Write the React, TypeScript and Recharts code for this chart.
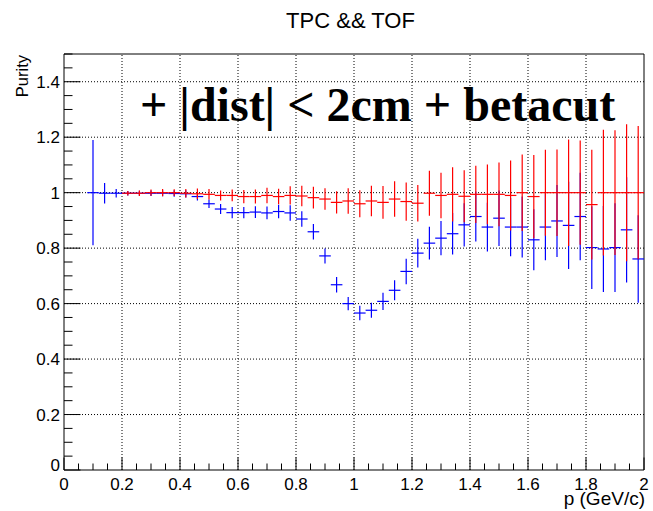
import React from 'react';
import { ComposedChart, Scatter, XAxis, YAxis, ErrorBar, ReferenceLine, ReferenceArea } from 'recharts';

// bin centres (GeV/c), bin width 0.04
const pBins = [
  0.10, 0.14, 0.18, 0.22, 0.26, 0.30, 0.34, 0.38, 0.42, 0.46, 0.50, 0.54,
  0.58, 0.62, 0.66, 0.70, 0.74, 0.78, 0.82, 0.86, 0.90, 0.94, 0.98, 1.02,
  1.06, 1.10, 1.14, 1.18, 1.22, 1.26, 1.30, 1.34, 1.38, 1.42, 1.46, 1.50,
  1.54, 1.58, 1.62, 1.66, 1.70, 1.74, 1.78, 1.82, 1.86, 1.90, 1.94, 1.98,
];
const binHalfWidth = 0.02;

// red: purity with |dist| < 2cm + betacut (first bins empty)
const purityRed = [
  null, null, null, 0.998, 0.998, 1.0, 1.0, 1.0, 0.998, 0.996, 0.994, 0.99,
  0.99, 0.986, 0.986, 0.99, 0.986, 0.99, 0.988, 0.982, 0.977, 0.965, 0.97, 0.96,
  0.97, 0.965, 0.977, 0.968, 0.962, 0.998, 0.99, 0.994, 0.987, 0.994, 0.994, 0.994,
  0.99, 1.0, 0.986, 1.0, 1.0, 1.0, 1.0, 0.957, 1.0, 1.0, 1.0, 1.0,
];
const purityRedErr = [
  0, 0, 0, 0.008, 0.01, 0.011, 0.013, 0.012, 0.015, 0.019, 0.019, 0.018,
  0.021, 0.024, 0.025, 0.028, 0.028, 0.033, 0.037, 0.039, 0.039, 0.04, 0.046, 0.049,
  0.055, 0.059, 0.064, 0.069, 0.066, 0.081, 0.082, 0.098, 0.094, 0.103, 0.108, 0.115,
  0.126, 0.138, 0.15, 0.155, 0.156, 0.192, 0.188, 0.198, 0.227, 0.225, 0.247, 0.24,
];

// blue: purity without the cut
const purityBlue = [
  1.0, 0.998, 0.998, 0.998, 0.998, 0.998, 0.998, 0.997, 0.996, 0.986, 0.96, 0.941,
  0.928, 0.928, 0.93, 0.927, 0.932, 0.927, 0.905, 0.859, 0.772, 0.668, 0.6, 0.566,
  0.576, 0.608, 0.648, 0.716, 0.782, 0.818, 0.836, 0.852, 0.884, 0.914, 0.876, 0.908,
  0.876, 0.876, 0.83, 0.876, 0.898, 0.882, 0.914, 0.802, 0.797, 0.802, 0.866, 0.761,
];
const purityBlueErr = [
  0.19, 0.037, 0.015, 0.008, 0.009, 0.01, 0.011, 0.012, 0.013, 0.014, 0.015, 0.018,
  0.02, 0.02, 0.021, 0.023, 0.024, 0.028, 0.028, 0.028, 0.027, 0.028, 0.024, 0.026,
  0.027, 0.031, 0.036, 0.046, 0.052, 0.059, 0.062, 0.075, 0.078, 0.09, 0.088, 0.1,
  0.105, 0.11, 0.11, 0.12, 0.13, 0.157, 0.158, 0.149, 0.155, 0.16, 0.19, 0.158,
];

const xGrid = [0.2, 0.4, 0.6, 0.8, 1, 1.2, 1.4, 1.6, 1.8];
const yGrid = [0.2, 0.4, 0.6, 0.8, 1, 1.2, 1.4];
const xTicks = Array.from({ length: 41 }, (_, i) => +(i * 0.05).toFixed(2));
const yTicks = Array.from({ length: 31 }, (_, i) => +(i * 0.05).toFixed(2));

const redRows = pBins
  .map((p, i) => ({ p, v: purityRed[i], e: purityRedErr[i], w: binHalfWidth }))
  .filter((r) => r.v !== null);
const blueRows = pBins.map((p, i) => ({ p, v: purityBlue[i], e: purityBlueErr[i], w: binHalfWidth }));

const FONT = '"Liberation Sans", Arial, Helvetica, sans-serif';

const isMajor = (v: number) => Math.abs(v / 0.2 - Math.round(v / 0.2)) < 1e-6;
const fmt = (v: number) => String(Number(v.toFixed(2)));

const renderXTick = (props: any) => {
  const { x, y, payload } = props;
  const v = payload.value as number;
  const major = isMajor(v);
  return (
    <g>
      <line x1={x} x2={x} y1={y} y2={y - (major ? 12.5 : 6.5)} stroke="#000" strokeWidth={1} />
      {major && (
        <text x={x} y={y + 19.5} textAnchor="middle" fontSize={17} fontFamily={FONT} fill="#000">
          {fmt(v)}
        </text>
      )}
    </g>
  );
};

const renderYTick = (props: any) => {
  const { x, y, payload } = props;
  const v = payload.value as number;
  const major = isMajor(v);
  return (
    <g>
      <line x1={x} x2={x + (major ? 16.5 : 8.5)} y1={y} y2={y} stroke="#000" strokeWidth={1} />
      {major && (
        <text x={x - 4} y={v === 0 ? y - 5.5 : y} dy="0.36em" textAnchor="end" fontSize={17} fontFamily={FONT} fill="#000">
          {fmt(v)}
        </text>
      )}
    </g>
  );
};

const noMarker = () => <g />;

export default function App() {
  return (
    <div style={{ position: 'absolute', left: 0, top: 0, width: 653, height: 511, background: '#fff' }}>
      <ComposedChart width={653} height={511} margin={{ top: 54, right: 9, bottom: 0, left: 0 }}>
        <XAxis
          dataKey="p"
          type="number"
          domain={[0, 2]}
          ticks={xTicks}
          interval={0}
          height={41}
          tickSize={0}
          tickMargin={0}
          tickLine={false}
          axisLine={false}
          tick={renderXTick}
          allowDataOverflow
        />
        <YAxis
          dataKey="v"
          type="number"
          domain={[0, 1.5]}
          ticks={yTicks}
          interval={0}
          width={64}
          tickSize={0}
          tickMargin={0}
          tickLine={false}
          axisLine={false}
          tick={renderYTick}
          allowDataOverflow
        />
        {xGrid.map((v) => (
          <ReferenceLine key={'gx' + v} x={v} stroke="#000" strokeWidth={1} strokeDasharray="1 2" />
        ))}
        {yGrid.map((v) => (
          <ReferenceLine key={'gy' + v} y={v} stroke="#000" strokeWidth={1} strokeDasharray="1 2" />
        ))}
        <ReferenceArea x1={0} x2={2} y1={0} y2={1.5} fill="none" fillOpacity={0} stroke="#000" strokeWidth={1} />
        <Scatter data={blueRows} fill="#0000ff" shape={noMarker} isAnimationActive={false}>
          <ErrorBar dataKey="e" direction="y" width={0} stroke="#0000ff" strokeWidth={1.2} isAnimationActive={false} />
          <ErrorBar dataKey="w" direction="x" width={0} stroke="#0000ff" strokeWidth={1.2} isAnimationActive={false} />
        </Scatter>
        <Scatter data={redRows} fill="#ff0000" shape={noMarker} isAnimationActive={false}>
          <ErrorBar dataKey="e" direction="y" width={0} stroke="#ff0000" strokeWidth={1.2} isAnimationActive={false} />
          <ErrorBar dataKey="w" direction="x" width={0} stroke="#ff0000" strokeWidth={1.2} isAnimationActive={false} />
        </Scatter>
      </ComposedChart>
      <svg width={653} height={511} style={{ position: 'absolute', left: 0, top: 0, pointerEvents: 'none' }}>
        <text x={350.5} y={28.3} textAnchor="middle" fontSize={22} fontFamily={FONT} fill="#000">
          TPC &amp;&amp; TOF
        </text>
        <text transform="translate(28.3,55) rotate(-90)" textAnchor="end" fontSize={16.5} fontFamily={FONT} fill="#000">
          Purity
        </text>
        <text x={645} y={505} textAnchor="end" fontSize={19} fontFamily={FONT} fill="#000">
          p (GeV/c)
        </text>
        <text
          x={140}
          y={121}
          fontSize={48}
          fontWeight="bold"
          fontFamily='"Liberation Serif", "Times New Roman", Times, serif'
          fill="#000"
        >
          + |dist| &lt; 2cm + betacut
        </text>
      </svg>
    </div>
  );
}
